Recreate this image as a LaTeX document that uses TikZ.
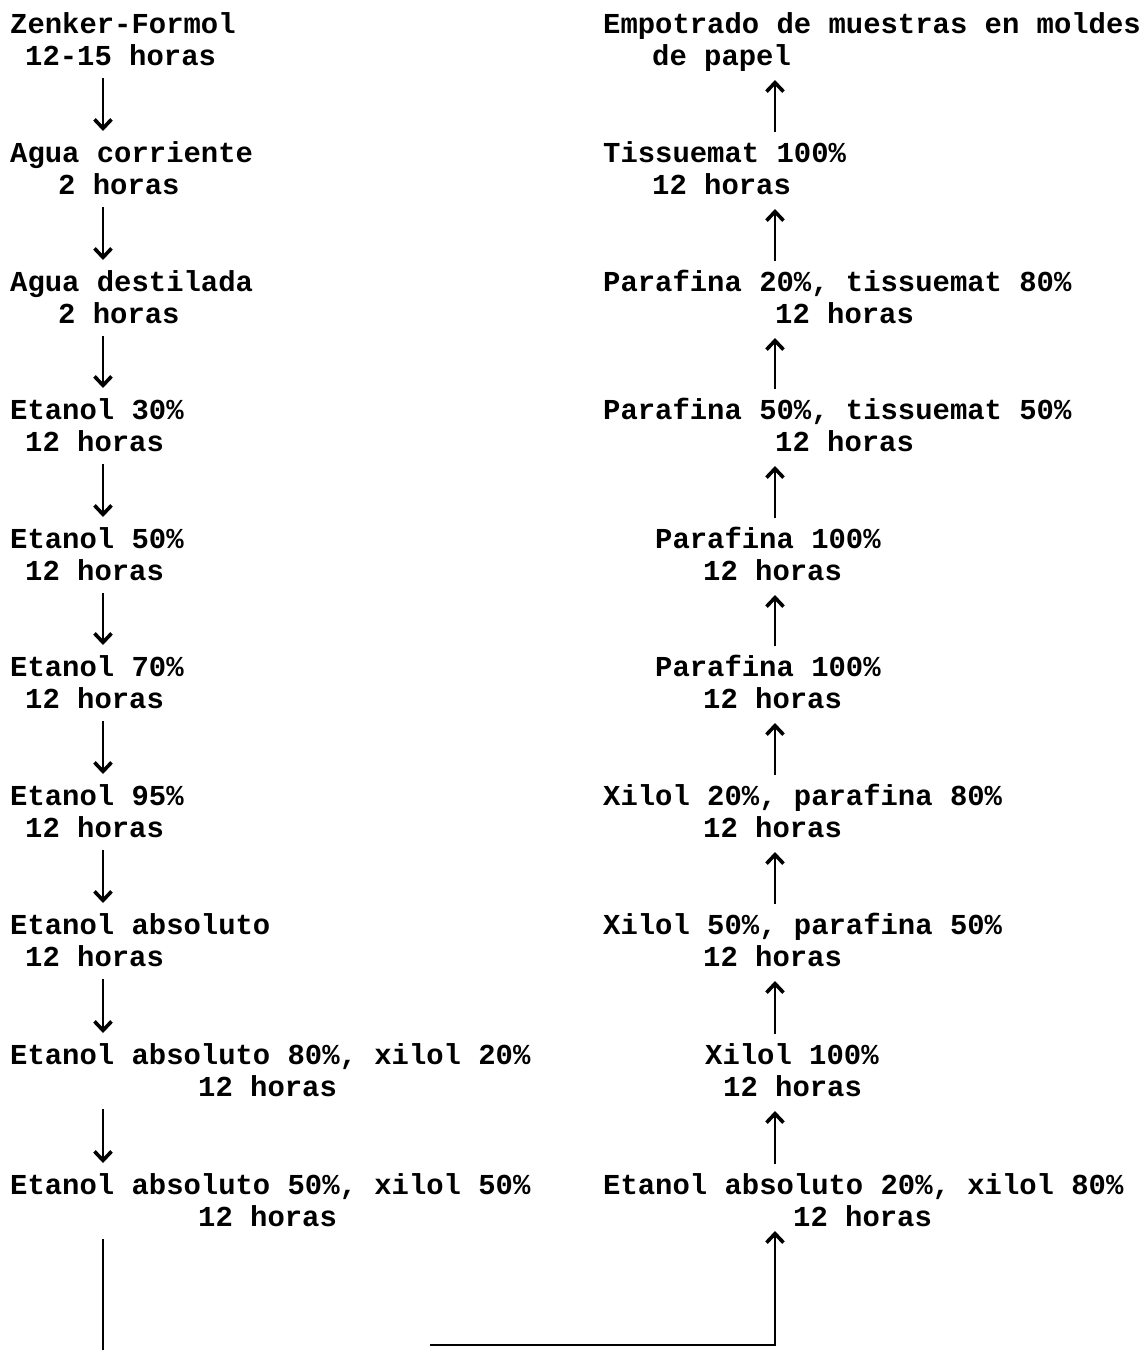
\documentclass[tikz,border=0pt]{standalone}
\usepackage{fontspec}
\newfontfamily\tw{Liberation Mono}
\usetikzlibrary{arrows.meta}
\begin{document}
\begin{tikzpicture}[x=1pt,y=-1pt,
  entry/.style={anchor=base west, inner sep=0pt, align=left,
    font=\tw\bfseries\fontsize{28.9}{31.5}\selectfont},
  arr/.style={line width=2.6pt, -{Straight Barb[length=9pt,width=17pt,line width=3.6pt]}},
  conn/.style={line width=2.6pt}]
\useasboundingbox (0,0) rectangle (1142,1350);
\fill[white] (0,0) rectangle (1142,1350);
\coordinate (L) at (103,0);
\coordinate (R) at (775,0);
% left column (node base = baseline of the second line)
\node[entry] (l1) at (10,65) {Zenker-Formol\\\hspace*{15pt}12-15 horas};
\node[entry] (l2) at (10,194) {Agua corriente\\\hspace*{48pt}2 horas};
\node[entry] (l3) at (10,323) {Agua destilada\\\hspace*{48pt}2 horas};
\node[entry] (l4) at (10,451) {Etanol 30\%\\\hspace*{15pt}12 horas};
\node[entry] (l5) at (10,580) {Etanol 50\%\\\hspace*{15pt}12 horas};
\node[entry] (l6) at (10,708) {Etanol 70\%\\\hspace*{15pt}12 horas};
\node[entry] (l7) at (10,837) {Etanol 95\%\\\hspace*{15pt}12 horas};
\node[entry] (l8) at (10,966) {Etanol absoluto\\\hspace*{15pt}12 horas};
\node[entry] (l9) at (10,1096) {Etanol absoluto 80\%, xilol 20\%\\\hspace*{188pt}12 horas};
\node[entry] (l10) at (10,1226) {Etanol absoluto 50\%, xilol 50\%\\\hspace*{188pt}12 horas};
% right column
\node[entry] (r1) at (603,65) {Empotrado de muestras en moldes\\\hspace*{49pt}de papel};
\node[entry] (r2) at (603,194) {Tissuemat 100\%\\\hspace*{49pt}12 horas};
\node[entry] (r3) at (603,323) {Parafina 20\%, tissuemat 80\%\\\hspace*{172pt}12 horas};
\node[entry] (r4) at (603,451) {Parafina 50\%, tissuemat 50\%\\\hspace*{172pt}12 horas};
\node[entry] (r5) at (655,580) {Parafina 100\%\\\hspace*{48pt}12 horas};
\node[entry] (r6) at (655,708) {Parafina 100\%\\\hspace*{48pt}12 horas};
\node[entry] (r7) at (603,837) {Xilol 20\%, parafina 80\%\\\hspace*{100pt}12 horas};
\node[entry] (r8) at (603,966) {Xilol 50\%, parafina 50\%\\\hspace*{100pt}12 horas};
\node[entry] (r9) at (705,1096) {Xilol 100\%\\\hspace*{18pt}12 horas};
\node[entry] (r10) at (603,1226) {Etanol absoluto 20\%, xilol 80\%\\\hspace*{190pt}12 horas};
% left arrows (down)
\foreach \a/\b in {l1/l2,l2/l3,l3/l4,l4/l5,l5/l6,l6/l7,l7/l8,l8/l9,l9/l10}
  \draw[arr] ([yshift=-13pt]\a.base -| L) -- ([yshift=63pt]\b.base -| L);
% right arrows (up)
\foreach \a/\b in {r2/r1,r3/r2,r4/r3,r5/r4,r6/r5,r7/r6,r8/r7,r9/r8,r10/r9}
  \draw[arr] ([yshift=62pt]\a.base -| R) -- ([yshift=-15pt]\b.base -| R);
% bottom link
\coordinate (bl) at (103,1350);
\coordinate (hl) at (430,1345);
\coordinate (corner) at (775,1345);
\draw[conn] ([yshift=-13pt]l10.base -| L) -- (bl);
\draw[arr] (hl) -- (corner) -- ([yshift=-5pt]r10.base -| R);
\end{tikzpicture}
\end{document}
